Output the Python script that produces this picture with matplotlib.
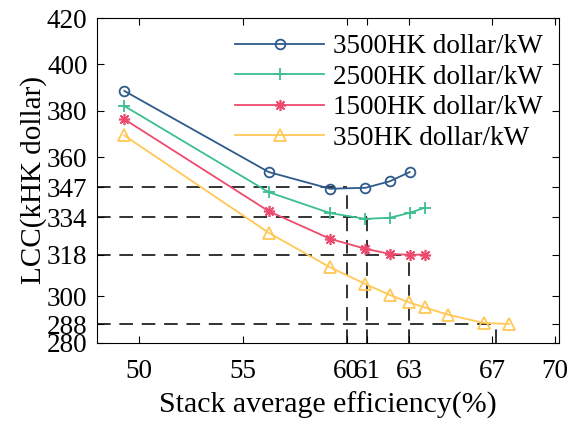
import matplotlib
matplotlib.use('Agg')
from matplotlib import pyplot as plt

plt.rcParams['font.family'] = 'Liberation Serif'

# dados
eff_blue = [49.3, 56.25, 59.2, 60.9, 62.07, 63.03]
lcc_blue = [388.6, 353.6, 346.4, 346.8, 349.6, 353.6]

eff_green = [49.3, 56.25, 59.2, 60.9, 62.07, 63.03, 63.75]
lcc_green = [382.1, 344.9, 335.9, 333.4, 333.9, 336.0, 338.2]

eff_pink = [49.3, 56.25, 59.2, 60.9, 62.07, 63.03, 63.75]
lcc_pink = [376.4, 336.7, 324.8, 320.5, 318.3, 317.9, 318.0]

eff_yellow = [49.3, 56.25, 59.2, 60.9, 62.07, 63.0, 63.75, 64.87, 66.6, 67.8]
lcc_yellow = [369.4, 327.4, 312.5, 305.3, 300.6, 297.4, 295.2, 292.1, 288.5, 288.1]

labels = ['3500HK dollar/kW', '2500HK dollar/kW', '1500HK dollar/kW', '350HK dollar/kW']

# linhas de referencia (minimos)
ref_x = [60, 61, 63, 67.2]
ref_y = [347, 334, 318, 288]

xticks = [50, 55, 60, 61, 63, 67, 70]
yticks = [280, 288, 300, 318, 334, 347, 360, 380, 400, 420]

fig = plt.figure(figsize=(5.79, 4.21), dpi=100)
ax = fig.add_axes([0.168, 0.186, 0.797, 0.771])

x0, y0 = 48, 280
dash = (0, (7, 4.5))
for rx, ry in zip(ref_x, ref_y):
    ax.plot([x0, rx], [ry, ry], color='#333333', lw=1.4, linestyle=dash, zorder=1)
    ax.plot([rx, rx], [y0, ry], color='#333333', lw=1.4, linestyle=dash, zorder=1)

ax.plot(eff_blue, lcc_blue, color='#2E5A8C', marker='o', mfc='none', ms=7, mew=1.3, lw=1.3, label=labels[0])
ax.plot(eff_green, lcc_green, color='#3DBE8E', marker='+', ms=9, mew=1.3, lw=1.3, label=labels[1])
ax.plot(eff_pink, lcc_pink, color='#EE4A6E', marker=(8, 2, 0), ms=8, mew=1.2, lw=1.3, label=labels[2])
ax.plot(eff_yellow, lcc_yellow, color='#FFC857', marker='^', mfc='none', ms=9, mew=1.3, lw=1.3, label=labels[3])

ax.set_xlim(48, 70.2)
ax.set_ylim(280, 420)
ax.set_xticks(xticks)
ax.set_yticks(yticks)
ax.tick_params(direction='in', top=True, right=True, length=5, labelsize=19.5)
ax.tick_params(axis='x', pad=12)
ax.tick_params(axis='y', pad=7)

ax.set_xlabel('Stack average efficiency(%)', fontsize=21.5, labelpad=5)
ax.set_ylabel('LCC(kHK dollar)', fontsize=21, labelpad=0)

ax.legend(loc='upper right', frameon=False, fontsize=19.5, handlelength=3.3,
          handletextpad=0.3, labelspacing=0.2, borderaxespad=0.2)

fig.savefig('out.png', dpi=100)
